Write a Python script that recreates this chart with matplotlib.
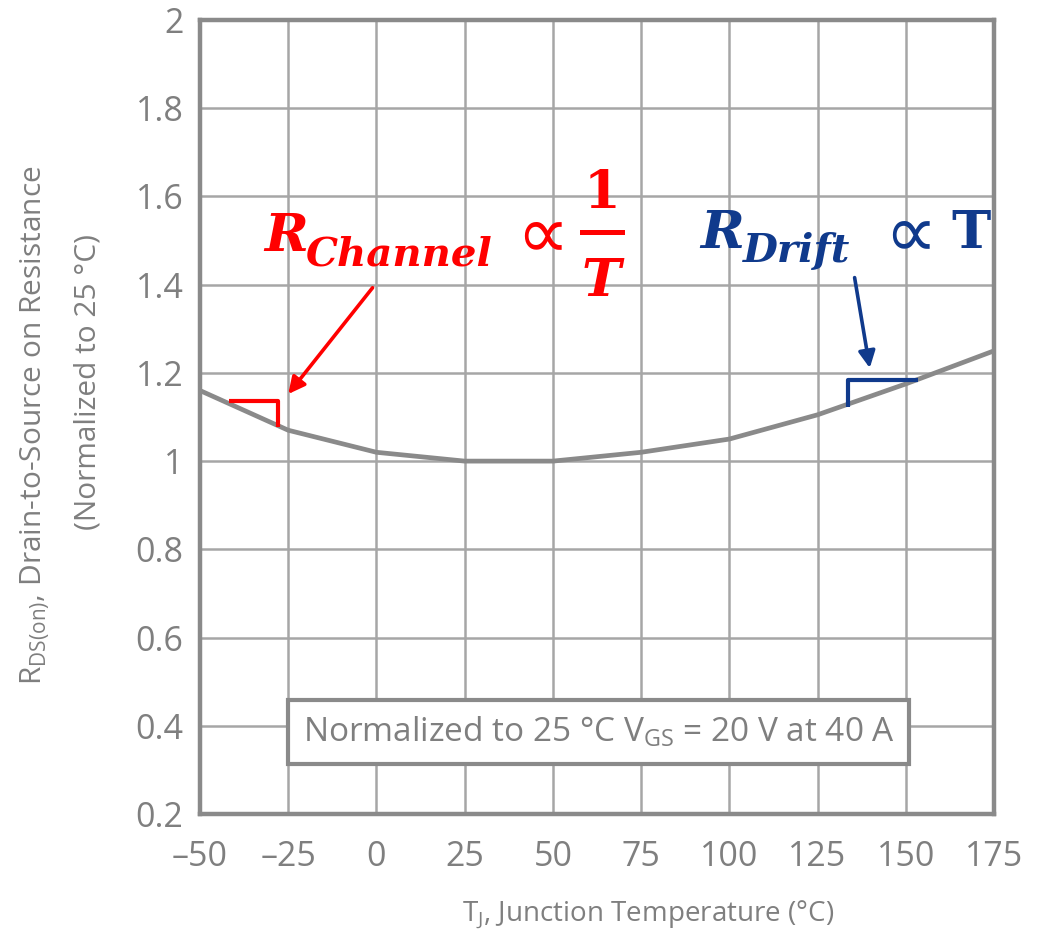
import matplotlib
matplotlib.use("Agg")
import matplotlib.pyplot as plt
from matplotlib.patches import Rectangle
from matplotlib.lines import Line2D

# Normalized on-resistance vs junction temperature
temps_c = [-50, -25, 0, 25, 50, 75, 100, 125, 150, 175]
rds_norm = [1.16, 1.07, 1.02, 1.00, 1.00, 1.02, 1.05, 1.105, 1.175, 1.25]

x_ticks = [-50, -25, 0, 25, 50, 75, 100, 125, 150, 175]
x_tick_labels = ["\u201350", "\u201325", "0", "25", "50", "75", "100", "125", "150", "175"]
y_ticks = [0.2, 0.4, 0.6, 0.8, 1.0, 1.2, 1.4, 1.6, 1.8, 2.0]
y_tick_labels = ["0.2", "0.4", "0.6", "0.8", "1", "1.2", "1.4", "1.6", "1.8", "2"]

GRAY_TXT = "#7f7f7f"
GRAY_LINE = "#8a8a8a"
GRID = "#a6a6a6"
RED = "#ff0000"
BLUE = "#103a8c"

SANS = ["Open Sans", "DejaVu Sans"]
SERIF = "DejaVu Serif"

plt.rcParams["font.family"] = SANS
plt.rcParams["mathtext.fontset"] = "custom"
plt.rcParams["mathtext.sf"] = "Open Sans"

W, H = 1048, 941
fig = plt.figure(figsize=(W / 100, H / 100), dpi=100)


def fx(px):
    return px / W


def fy(py):
    return 1 - py / H


ax = fig.add_axes([fx(200), fy(814), fx(994) - fx(200), fy(20) - fy(814)])

ax.set_xlim(-50, 175)
ax.set_ylim(0.2, 2.0)
ax.set_xticks(x_ticks)
ax.set_xticklabels(x_tick_labels)
ax.set_yticks(y_ticks)
ax.set_yticklabels(y_tick_labels)
ax.tick_params(length=0, labelsize=24.5, labelcolor=GRAY_TXT)
ax.tick_params(axis="x", pad=19)
ax.tick_params(axis="y", pad=12)
ax.grid(True, color=GRID, linewidth=1.8)
ax.set_axisbelow(True)
for s in ax.spines.values():
    s.set_color(GRAY_LINE)
    s.set_linewidth(3.2)

ax.plot(temps_c, rds_norm, color=GRAY_LINE, linewidth=3.4, solid_capstyle="butt", zorder=3)

# condition box
ax.add_patch(Rectangle((-25, 0.3126), 175.9, 0.145, facecolor="white",
                       edgecolor=GRAY_LINE, linewidth=3.0, zorder=4))
ax.text(63, 0.386, "Normalized to 25 \u00b0C V$_{\\mathsf{GS}}$ = 20 V at 40 A",
        ha="center", va="center", fontsize=24, color=GRAY_TXT, zorder=5)

# channel-resistance bracket and arrow
ax.plot([-41.8, -27.8, -27.8], [1.136, 1.136, 1.078], color=RED, linewidth=3.0,
        solid_capstyle="butt", zorder=5)
ax.annotate("", xy=(-25.0, 1.152), xytext=(-1.1, 1.393),
            arrowprops=dict(arrowstyle="-|>,head_length=1.0,head_width=0.5",
                            color=RED, linewidth=2.6, shrinkA=0, shrinkB=0), zorder=5)

# drift-resistance bracket and arrow
ax.plot([133.5, 133.5, 153.4], [1.122, 1.184, 1.184], color=BLUE, linewidth=3.0,
        solid_capstyle="butt", zorder=5)
ax.annotate("", xy=(139.8, 1.211), xytext=(135.5, 1.416),
            arrowprops=dict(arrowstyle="-|>,head_length=1.0,head_width=0.5",
                            color=BLUE, linewidth=2.6, shrinkA=0, shrinkB=0), zorder=5)

# formula labels, assembled piece by piece
BIG = 38
SUB = 29
PROP = 53
bi = dict(family=SERIF, weight="bold", style="italic")
bu = dict(family=SERIF, weight="bold", style="normal")

fig.text(fx(264), fy(251), "R", fontsize=BIG, color=RED, ha="left", va="baseline", **bi)
fig.text(fx(306), fy(265), "Channel", fontsize=SUB, color=RED, ha="left", va="baseline", **bi)
fig.text(fx(542), fy(257), "\u221d", fontsize=PROP, color=RED, ha="center", va="baseline",
         family="DejaVu Sans")
fig.add_artist(Line2D([fx(582), fx(622)], [fy(232), fy(232)], color=RED, linewidth=3.6,
                      transform=fig.transFigure))
fig.text(fx(602), fy(208), "1", fontsize=BIG, color=RED, ha="center", va="baseline", **bu)
fig.text(fx(601), fy(296), "T", fontsize=BIG, color=RED, ha="center", va="baseline", **bi)

fig.text(fx(700), fy(248), "R", fontsize=BIG, color=BLUE, ha="left", va="baseline", **bi)
fig.text(fx(743), fy(262), "Drift", fontsize=SUB, color=BLUE, ha="left", va="baseline", **bi)
fig.text(fx(910), fy(256), "\u221d", fontsize=PROP, color=BLUE, ha="center", va="baseline",
         family="DejaVu Sans")
fig.text(fx(971), fy(248), "T", fontsize=BIG, color=BLUE, ha="center", va="baseline", **bu)

# axis titles
fig.text(fx(648), fy(915), "T$_{\\mathsf{J}}$, Junction Temperature (\u00b0C)",
         ha="center", va="center", fontsize=20, color=GRAY_TXT)
fig.text(fx(35), fy(425),
         "R$_{\\mathsf{DS(on)}}$, Drain-to-Source on Resistance",
         ha="center", va="center", rotation=90, fontsize=21.5, color=GRAY_TXT)
fig.text(fx(88), fy(382), "(Normalized to 25 \u00b0C)",
         ha="center", va="center", rotation=90, fontsize=21.5, color=GRAY_TXT)

fig.savefig("out.png", dpi=100, facecolor="white")
